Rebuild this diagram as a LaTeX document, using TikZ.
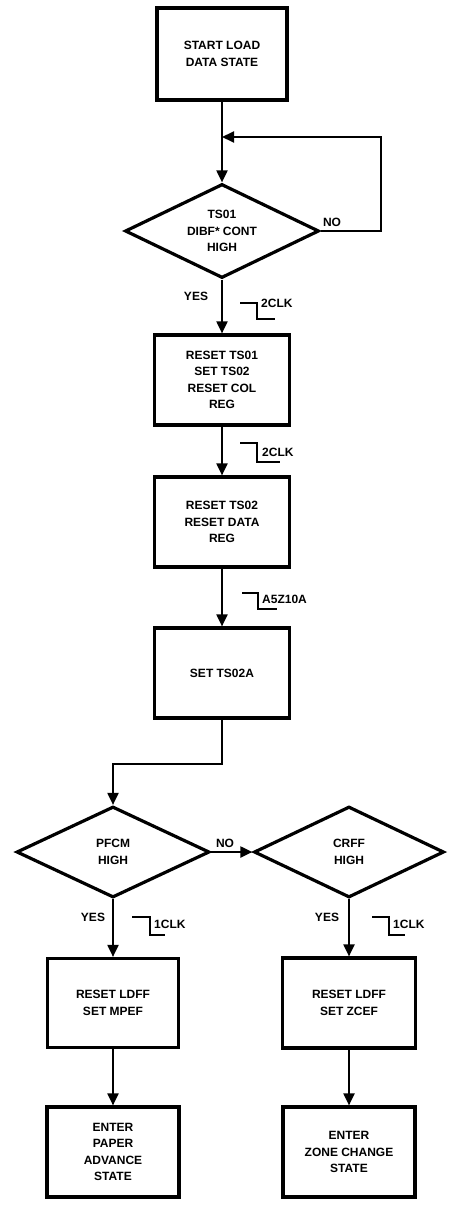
\documentclass[tikz,border=0pt]{standalone}
\usepackage{fontspec}
\setsansfont{Liberation Sans}
\usetikzlibrary{shapes.geometric,arrows.meta}

\begin{document}
\begin{tikzpicture}[x=1pt,y=-1pt,font=\sffamily\bfseries\fontsize{12}{16.5}\selectfont,
  >={Triangle[width=11pt,length=12pt]},
  act/.style={draw,line width=3.2pt,align=center,minimum width=135pt,minimum height=90pt,inner sep=3pt},
  dec/.style={draw,diamond,line width=3.2pt,align=center,aspect=2,minimum width=194pt,minimum height=94pt,inner sep=0pt},
  ln/.style={line width=2pt},
  clk/.style={line width=1.6pt},
  lbl/.style={inner sep=1pt}]
  \useasboundingbox (0,0) rectangle (455,1209);
  % main column
  \node[act,minimum width=130pt,minimum height=92pt] (start) at (222,54) {START LOAD\\DATA STATE};
  \node[dec] (ts01) at (222,231) {TS01\\DIBF* CONT\\HIGH};
  \node[act] (rst1) at (222,380) {RESET TS01\\SET TS02\\RESET COL\\REG};
  \node[act] (rst2) at (222,522) {RESET TS02\\RESET DATA\\REG};
  \node[act] (set2a) at (222,673) {SET TS02A};
  % the two branches
  \node[dec,minimum width=193pt,minimum height=91pt] (pfcm) at (113,852) {PFCM\\HIGH};
  \node[dec,minimum width=190pt,minimum height=91pt] (crff) at (349,852) {CRFF\\HIGH};
  \node[act,minimum width=131pt,minimum height=89pt] (rldA) at (113,1003) {RESET LDFF\\SET MPEF};
  \node[act,minimum width=133pt] (rldB) at (349,1003) {RESET LDFF\\SET ZCEF};
  \node[act,minimum width=132pt] (enterA) at (113,1152) {ENTER\\PAPER\\ADVANCE\\STATE};
  \node[act,minimum width=132pt] (enterB) at (349,1152) {ENTER\\ZONE CHANGE\\STATE};
  \coordinate (join) at (222,137);
  % connectors
  \draw[ln,->] (start) -- (ts01);
  \draw[ln,->] (ts01.east) -- ++(60,0) |- (join);
  \draw[ln,->] (ts01) -- (rst1);
  \draw[ln,->] (rst1) -- (rst2);
  \draw[ln,->] (rst2) -- (set2a);
  \draw[ln,->] (set2a.south) -- ++(0,44) -| (pfcm.north);
  \draw[ln,->] (pfcm) -- (crff);
  \draw[ln,->] (pfcm) -- (rldA);
  \draw[ln,->] (rldA) -- (enterA);
  \draw[ln,->] (crff) -- (rldB);
  \draw[ln,->] (rldB) -- (enterB);
  % branch labels
  \node[lbl] (no1) at (332,222) {NO};
  \node[lbl] (yes1) at (196,296) {YES};
  \node[lbl] (no2) at (225,843) {NO};
  \node[lbl] (yes2) at (93,917) {YES};
  \node[lbl] (yes3) at (327,917) {YES};
  % clock edges
  \draw[clk] (240,303) -- ++(17,0) -- ++(0,16) -- ++(18,0);
  \node[lbl,anchor=west] (c1) at (260,303) {2CLK};
  \draw[clk] (240,443) -- ++(17,0) -- ++(0,19) -- ++(23,0);
  \node[lbl,anchor=west] (c2) at (261,452) {2CLK};
  \draw[clk] (242,593) -- ++(16,0) -- ++(0,16) -- ++(19,0);
  \node[lbl,anchor=west] (c3) at (261,599) {A5Z10A};
  \draw[clk] (132,917) -- ++(18,0) -- ++(0,18) -- ++(15,0);
  \node[lbl,anchor=west] (c4) at (153,924) {1CLK};
  \draw[clk] (372,917) -- ++(17,0) -- ++(0,18) -- ++(16,0);
  \node[lbl,anchor=west] (c5) at (392,924) {1CLK};
\end{tikzpicture}
\end{document}
